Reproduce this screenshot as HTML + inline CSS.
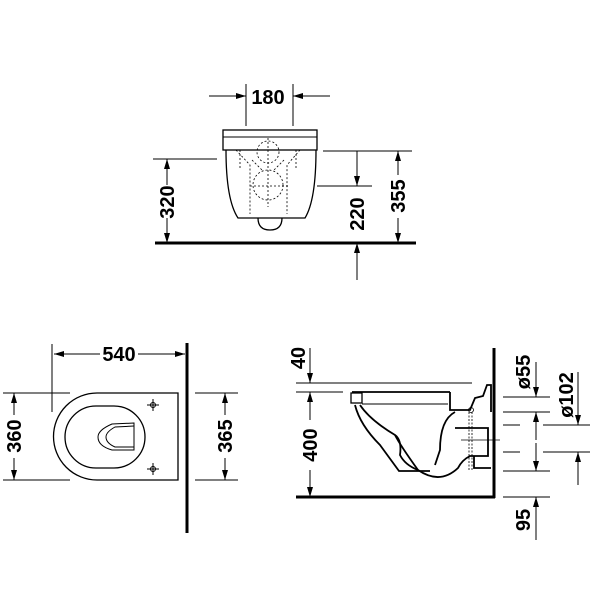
<!DOCTYPE html>
<html><head><meta charset="utf-8"><style>
html,body{margin:0;padding:0;background:#fff;}
svg{display:block}
text{font-family:"Liberation Sans Narrow","Liberation Sans",sans-serif;font-weight:bold;font-size:20px;fill:#000}
</style></head><body>
<svg width="600" height="600" viewBox="0 0 600 600" xmlns="http://www.w3.org/2000/svg">
<defs>
<marker id="a" viewBox="0 0 10 6" refX="10" refY="3" markerWidth="10" markerHeight="6" orient="auto" markerUnits="userSpaceOnUse"><path d="M0,0 L10,3 L0,6z" fill="#000"/></marker>
</defs>
<g stroke="#000" stroke-width="1" fill="none">
<!-- TOP VIEW -->
<line x1="246" y1="84" x2="246" y2="126"/><line x1="293" y1="84" x2="293" y2="126"/>
<line x1="209" y1="96" x2="246" y2="96" marker-end="url(#a)"/>
<line x1="330" y1="96" x2="293" y2="96" marker-end="url(#a)"/>
<rect x="223" y="130" width="94" height="20" stroke-width="1.3"/>
<line x1="223" y1="137" x2="317" y2="137"/>
<path d="M226,150 Q226,200 238,218 L305,218 Q316,200 316,150" stroke-width="1.3"/>
<path d="M258,218 Q258,230 270,230 Q282,230 282,218" stroke-width="1.3"/>
<g stroke-dasharray="2,2" stroke-width="0.8">
<circle cx="268" cy="152" r="11"/><circle cx="268" cy="185" r="15"/>
<line x1="268" y1="138" x2="268" y2="207"/><line x1="250" y1="186" x2="290" y2="186"/>
<path d="M236,150 L250,165 L250,214 M300,150 L287,165 L287,214 M240,150 L240,170 M296,150 L296,170"/>
<path d="M252,160 L262,170 M284,160 L274,170"/>
</g>
<line x1="155" y1="243" x2="416" y2="243" stroke-width="3"/>
<line x1="153" y1="159" x2="217" y2="159"/>
<line x1="167" y1="185" x2="167" y2="159" marker-end="url(#a)"/>
<line x1="167" y1="218" x2="167" y2="243" marker-end="url(#a)"/>
<line x1="323" y1="151" x2="412" y2="151"/>
<line x1="317" y1="186" x2="372" y2="186"/>
<line x1="357" y1="151" x2="357" y2="186" marker-end="url(#a)"/>
<line x1="357" y1="280" x2="357" y2="243" marker-end="url(#a)"/>
<line x1="398" y1="175" x2="398" y2="151" marker-end="url(#a)"/>
<line x1="398" y1="218" x2="398" y2="243" marker-end="url(#a)"/>

<!-- BOTTOM LEFT -->
<line x1="187" y1="343" x2="187" y2="533" stroke-width="3"/>
<line x1="52" y1="344" x2="52" y2="412"/>
<line x1="100" y1="354" x2="54" y2="354" marker-end="url(#a)"/>
<line x1="138" y1="354" x2="185" y2="354" marker-end="url(#a)"/>
<line x1="3" y1="393" x2="70" y2="393"/><line x1="3" y1="480" x2="70" y2="480"/>
<path d="M178,393 L97,393 A43.5,43.5 0 0 0 97,480 L178,480 Z" stroke-width="1.3"/>
<rect x="65" y="406" width="80" height="62" rx="31" stroke-width="1.3"/>
<path d="M134,423 L112,424 Q98,430 98,437 Q98,446 112,450 L134,450 Z"/>
<path d="M134,426 L115,427 Q106,432 106,437 Q106,443 115,447 L134,447"/>
<circle cx="153" cy="405" r="2.5"/><line x1="147" y1="405" x2="159" y2="405"/><line x1="153" y1="399" x2="153" y2="411"/>
<circle cx="153" cy="469" r="2.5"/><line x1="147" y1="469" x2="159" y2="469"/><line x1="153" y1="463" x2="153" y2="475"/>
<line x1="14" y1="415" x2="14" y2="393" marker-end="url(#a)"/>
<line x1="14" y1="458" x2="14" y2="480" marker-end="url(#a)"/>
<line x1="195" y1="393" x2="238" y2="393"/><line x1="195" y1="480" x2="238" y2="480"/>
<line x1="225" y1="415" x2="225" y2="393" marker-end="url(#a)"/>
<line x1="225" y1="458" x2="225" y2="480" marker-end="url(#a)"/>

<!-- BOTTOM RIGHT -->
<line x1="494" y1="348" x2="494" y2="498" stroke-width="3"/>
<line x1="296" y1="497" x2="495" y2="497" stroke-width="3"/>
<line x1="310" y1="348" x2="310" y2="383" marker-end="url(#a)"/>
<line x1="296" y1="383" x2="472" y2="383"/>
<line x1="296" y1="392" x2="343" y2="392"/>
<line x1="310" y1="420" x2="310" y2="392" marker-end="url(#a)"/>
<line x1="310" y1="470" x2="310" y2="497" marker-end="url(#a)"/>
<g stroke-width="1.8">
<line x1="352" y1="392" x2="450" y2="392"/>
<rect x="351" y="393" width="11" height="10" stroke-width="1.3"/>
<line x1="362" y1="404" x2="448" y2="404" stroke-width="1"/>
<path d="M355,405 Q360,425 380,445 L399,471 L430,471"/>
<path d="M360,405 Q370,420 395,435 Q402,440 400,455 Q405,465 418,470"/>
<path d="M395,435 Q400,445 418,470"/>
<path d="M455,412 Q440,420 440,450 L435,465"/>
<path d="M418,470 Q440,485 458,468 Q462,460 470,456 L488,456 L488,428 L455,428"/>
<path d="M450,392 L450,410 L470,410 L475,398 L483,396 L487,385 L491,385 L491,412"/>
<path d="M474,456 L474,468 L491,468"/>
</g>
<g stroke-width="0.8" stroke-dasharray="2,1.5">
<line x1="469" y1="412" x2="469" y2="470"/><line x1="472" y1="412" x2="472" y2="470"/>
</g>
<circle cx="471" cy="410" r="2.5" stroke-width="0.8"/>
<line x1="461" y1="440" x2="500" y2="440" stroke-width="0.8"/>
<line x1="503" y1="397" x2="550" y2="397"/>
<line x1="503" y1="412" x2="550" y2="412"/>
<line x1="503" y1="425" x2="520" y2="425"/><line x1="543" y1="425" x2="590" y2="425"/>
<line x1="503" y1="452" x2="520" y2="452"/><line x1="543" y1="452" x2="590" y2="452"/>
<line x1="503" y1="471" x2="550" y2="471"/>
<line x1="503" y1="497" x2="550" y2="497"/>
<line x1="536" y1="362" x2="536" y2="397" marker-end="url(#a)"/>
<line x1="536" y1="440" x2="536" y2="412" marker-end="url(#a)"/>
<line x1="536" y1="443" x2="536" y2="471" marker-end="url(#a)"/>
<line x1="536" y1="540" x2="536" y2="497" marker-end="url(#a)"/>
<line x1="578" y1="372" x2="578" y2="425" marker-end="url(#a)"/>
<line x1="578" y1="485" x2="578" y2="452" marker-end="url(#a)"/>
</g>
<g fill="#fff" stroke="none">
<rect x="158" y="186" width="18" height="32"/>
<rect x="348" y="196" width="18" height="36"/>
<rect x="389" y="176" width="18" height="40"/>
<rect x="5" y="417" width="18" height="39"/>
<rect x="216" y="417" width="18" height="39"/>
<rect x="301" y="425" width="18" height="42"/>
</g>
<text x="268" y="104" text-anchor="middle">180</text>
<text x="119" y="361" text-anchor="middle">540</text>
<text transform="translate(174,202) rotate(-90)" text-anchor="middle">320</text>
<text transform="translate(364,214) rotate(-90)" text-anchor="middle">220</text>
<text transform="translate(405,196) rotate(-90)" text-anchor="middle">355</text>
<text transform="translate(21,436) rotate(-90)" text-anchor="middle">360</text>
<text transform="translate(232,436) rotate(-90)" text-anchor="middle">365</text>
<text transform="translate(305,358) rotate(-90)" text-anchor="middle">40</text>
<text transform="translate(317,445) rotate(-90)" text-anchor="middle">400</text>
<text transform="translate(530,372) rotate(-90)" text-anchor="middle">ø55</text>
<text transform="translate(573,395) rotate(-90)" text-anchor="middle">ø102</text>
<text transform="translate(530,520) rotate(-90)" text-anchor="middle">95</text>
</svg>
</body></html>
